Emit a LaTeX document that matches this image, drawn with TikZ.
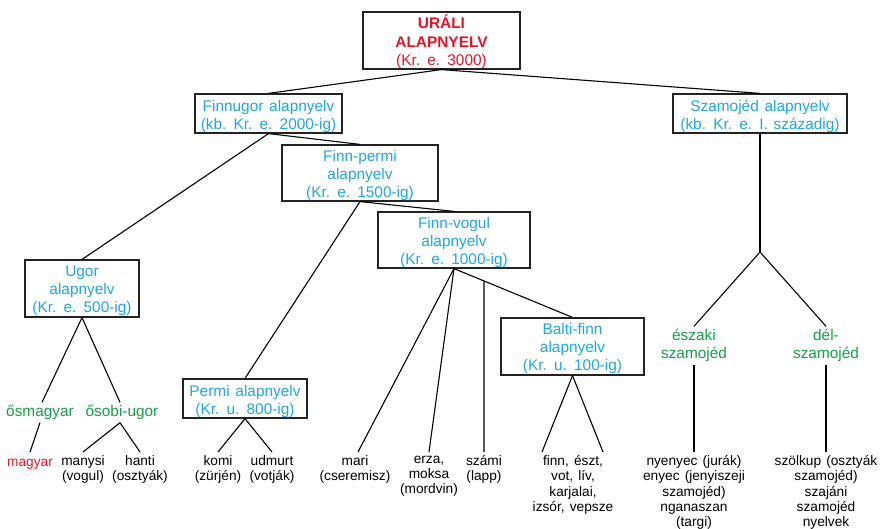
\documentclass[tikz,border=0pt]{standalone}
\usepackage{fontspec}
\setmainfont{Liberation Sans}[WordSpace=1.35]
\definecolor{uralred}{RGB}{228,20,40}
\definecolor{langblue}{RGB}{32,166,226}
\definecolor{langgreen}{RGB}{24,158,72}
\definecolor{boxline}{RGB}{35,35,35}
\newcommand\boxfont{\fontsize{15.4}{18}\selectfont}
\newcommand\uralfont{\fontsize{15.4}{18.6}\selectfont}
\newcommand\leaffont{\fontsize{13.7}{15.2}\selectfont}
\tikzset{
  langbox/.style={draw=boxline, line width=1.2pt, inner sep=0pt},
  boxtext/.style={inner sep=0pt, align=center, font=\boxfont, text=langblue,
    execute at begin node=\strut, execute at end node=\strut},
  grouplabel/.style={inner sep=0pt, align=center, font=\boxfont, text=langgreen},
  leaf/.style={anchor=north, inner xsep=0pt, inner ysep=3.5pt, align=center, font=\leaffont,
    text=black, execute at begin node=\strut},
  conn/.style={line width=1.1pt, black},
}
\begin{document}
\begin{tikzpicture}[x=1pt,y=-1pt]
\useasboundingbox (0,0) rectangle (880,529);
% boxes
\node[langbox, minimum width=157, minimum height=57] (ural) at (441.5,40.5) {};
\node[boxtext, text=uralred, font=\uralfont] (ural-t) at ([yshift=-2.5pt]ural.center)
  {\textbf{URÁLI}\\\textbf{ALAPNYELV}\\(Kr. e. 3000)};
\node[langbox, minimum width=147, minimum height=39] (finnugor) at (268.5,113.5) {};
\node[boxtext] (finnugor-t) at ([yshift=-4.5pt]finnugor.center)
  {Finnugor alapnyelv\\(kb. Kr. e. 2000-ig)};
\node[langbox, minimum width=174, minimum height=39] (szam) at (760,113.5) {};
\node[boxtext] (szam-t) at ([yshift=-4.5pt]szam.center)
  {Szamojéd alapnyelv\\(kb. Kr. e. I. századig)};
\node[langbox, minimum width=156, minimum height=56] (finnpermi) at (360,173) {};
\node[boxtext] (finnpermi-t) at ([yshift=-4pt]finnpermi.center)
  {Finn-permi\\alapnyelv\\(Kr. e. 1500-ig)};
\node[langbox, minimum width=152, minimum height=56] (finnvogul) at (454,240) {};
\node[boxtext] (finnvogul-t) at ([yshift=-4pt]finnvogul.center)
  {Finn-vogul\\alapnyelv\\(Kr. e. 1000-ig)};
\node[langbox, minimum width=114, minimum height=57] (ugor) at (82,288.5) {};
\node[boxtext] (ugor-t) at ([yshift=-3.5pt]ugor.center)
  {Ugor\\alapnyelv\\(Kr. e. 500-ig)};
\node[langbox, minimum width=124, minimum height=39] (permi) at (245,398.5) {};
\node[boxtext] (permi-t) at ([yshift=-4.5pt]permi.center)
  {Permi alapnyelv\\(Kr. u. 800-ig)};
\node[langbox, minimum width=143, minimum height=57] (balti) at (572.5,346.5) {};
\node[boxtext] (balti-t) at ([yshift=-3.5pt]balti.center)
  {Balti-finn\\alapnyelv\\(Kr. u. 100-ig)};
% green group labels
\node[grouplabel, minimum height=20] (osm) at (40,412.5) {ősmagyar};
\node[grouplabel, minimum height=20] (osobi) at (122,412.5) {ősobi-ugor};
\node[grouplabel, minimum height=38] (eszaki) at (694,345.5) {északi\\szamojéd};
\node[grouplabel, minimum height=38] (del) at (826,345.5) {dél-\\szamojéd};
\coordinate (szbr) at (760,252);
% leaves
\node[leaf, text=uralred] (magyar) at (30,452) {magyar};
\node[leaf] (manysi) at (83,452) {manysi\\(vogul)};
\node[leaf] (hanti) at (140,452) {hanti\\(osztyák)};
\node[leaf] (komi) at (218,452) {komi\\(zürjén)};
\node[leaf] (udmurt) at (272,452) {udmurt\\(votják)};
\node[leaf] (mari) at (355,452) {mari\\(cseremisz)};
\node[leaf] (erza) at (429,452) {erza,\\moksa\\(mordvin)};
\node[leaf] (szami) at (484,452) {számi\\(lapp)};
\node[leaf] (finn) at (573,452) {finn, észt,\\vot, lív,\\karjalai,\\izsór, vepsze};
\node[leaf] (nyenyec) at (694,452) {nyenyec (jurák)\\enyec (jenyiszeji\\szamojéd)\\nganaszan\\(targi)};
\node[leaf] (szolkup) at (826,452) {szölkup (osztyák\\szamojéd)\\szajáni\\szamojéd\\nyelvek};
% connectors
\draw[conn] (ural.south) -- (finnugor.north);
\draw[conn] (ural.south) -- (szam.north);
\draw[conn] (finnugor.south) -- (finnpermi.north);
\draw[conn] (finnugor.south) -- (ugor.north);
\draw[conn] (finnpermi.south) -- (finnvogul.north);
\draw[conn] (finnpermi.south) -- (permi.north);
\draw[conn] (ugor.south) -- ([xshift=2]osm.north);
\draw[conn] (ugor.south) -- ([xshift=-2]osobi.north);
\draw[conn] (osm.south) -- (magyar.north);
\draw[conn] ([xshift=-2]osobi.south) -- (manysi.north);
\draw[conn] ([xshift=-2]osobi.south) -- (hanti.north);
\draw[conn] (permi.south) -- (komi.north);
\draw[conn] (permi.south) -- (udmurt.north);
\draw[conn] (finnvogul.south) -- ([xshift=3]mari.north);
\draw[conn] (finnvogul.south) -- (erza.north);
\draw[conn] (finnvogul.south) -- (balti.north);
\draw[conn] (intersection of finnvogul.south--balti.north and szami.north--szami.center) -- (szami.north);
\draw[conn] (balti.south) -- ([xshift=-31]finn.north);
\draw[conn] (balti.south) -- ([xshift=30]finn.north);
\draw[conn] (szam.south) -- (szbr);
\draw[conn] (szbr) -- (eszaki.north);
\draw[conn] (szbr) -- (del.north);
\draw[conn] (eszaki.south) -- (nyenyec.north);
\draw[conn] (del.south) -- (szolkup.north);
\end{tikzpicture}
\end{document}
